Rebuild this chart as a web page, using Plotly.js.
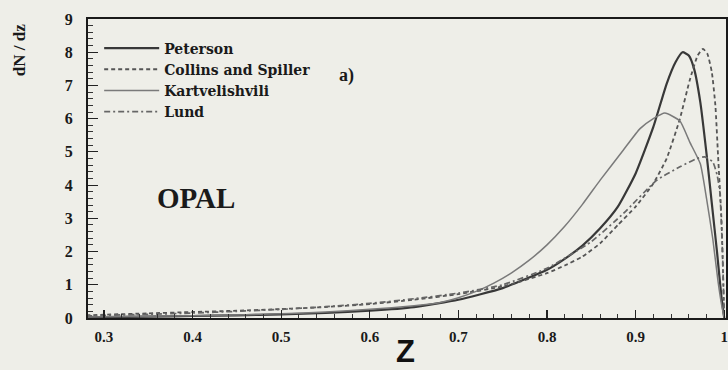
<!DOCTYPE html>
<html>
<head>
<meta charset="utf-8">
<script src="https://cdn.plot.ly/plotly-3.0.1.min.js"></script>
<style>
html,body{margin:0;padding:0;background:#eeeee8;}
#chart{width:728px;height:370px;}
</style>
</head>
<body>
<div id="chart"></div>
<script>
// Data
var seriesNames = ["Peterson", "Collins and Spiller", "Kartvelishvili", "Lund"];

var petersonZ = [0.28,0.30,0.35,0.40,0.45,0.50,0.55,0.60,0.65,0.70,0.75,0.80,0.82,0.84,0.86,0.88,0.90,0.92,0.935,0.945,0.953,0.960,0.966,0.973,0.980,0.986,0.992,0.997,1.0];
var petersonV = [0.02,0.03,0.04,0.06,0.08,0.11,0.15,0.22,0.33,0.55,0.90,1.45,1.78,2.18,2.70,3.35,4.35,5.75,7.05,7.70,8.00,7.90,7.50,6.50,4.95,3.45,1.95,0.60,0];

var collinsZ = [0.28,0.30,0.35,0.40,0.45,0.50,0.55,0.60,0.65,0.70,0.75,0.80,0.82,0.84,0.86,0.88,0.90,0.92,0.935,0.950,0.961,0.970,0.976,0.981,0.986,0.990,0.993,0.997,0.999,1.0];
var collinsV = [0.08,0.10,0.14,0.18,0.22,0.27,0.33,0.42,0.55,0.72,0.95,1.35,1.58,1.85,2.25,2.80,3.35,4.05,4.80,6.00,7.15,7.90,8.10,7.95,7.40,6.40,4.90,2.90,1.00,0];

var kartZ = [0.28,0.30,0.35,0.40,0.45,0.50,0.55,0.60,0.65,0.68,0.70,0.72,0.74,0.76,0.78,0.80,0.82,0.84,0.86,0.886,0.905,0.920,0.933,0.950,0.961,0.973,0.980,0.987,0.993,0.997,1.0];
var kartV = [0.03,0.04,0.05,0.07,0.09,0.13,0.18,0.26,0.37,0.47,0.61,0.80,1.05,1.36,1.74,2.20,2.76,3.42,4.15,5.05,5.70,6.00,6.17,5.93,5.30,4.64,3.60,2.40,1.10,0.40,0];

var lundZ = [0.28,0.30,0.35,0.40,0.45,0.50,0.55,0.60,0.65,0.70,0.75,0.80,0.85,0.886,0.924,0.950,0.969,0.978,0.987,0.992,0.995,0.998,1.0];
var lundV = [0.06,0.08,0.11,0.15,0.20,0.26,0.34,0.44,0.58,0.75,1.00,1.50,2.30,3.14,4.15,4.55,4.80,4.85,4.70,4.30,3.80,2.00,0];

var xTickVals = [0.3,0.4,0.5,0.6,0.7,0.8,0.9,1.0];
var xTickText = ["0.3","0.4","0.5","0.6","0.7","0.8","0.9","1"];
var yTickVals = [0,1,2,3,4,5,6,7,8,9];

var serif = "Liberation Serif, Times New Roman, serif";

var traces = [
  {x: petersonZ, y: petersonV, name: seriesNames[0], mode: "lines",
   line: {color: "#383838", width: 2.2, shape: "spline", smoothing: 0.5}},
  {x: collinsZ, y: collinsV, name: seriesNames[1], mode: "lines",
   line: {color: "#555555", width: 1.8, dash: "4px,3px", shape: "spline", smoothing: 0.5}},
  {x: kartZ, y: kartV, name: seriesNames[2], mode: "lines",
   line: {color: "#7a7a7a", width: 1.5, shape: "spline", smoothing: 0.5}},
  {x: lundZ, y: lundV, name: seriesNames[3], mode: "lines",
   line: {color: "#666666", width: 1.7, dash: "6px,3px,2px,3px", shape: "spline", smoothing: 0.5}}
];

var layout = {
  width: 728, height: 370,
  margin: {l: 88, r: 2, t: 19, b: 52},
  paper_bgcolor: "#eeeee8",
  plot_bgcolor: "#eeeee8",
  showlegend: true,
  legend: {
    x: 0.0175, y: 0.955, xanchor: "left", yanchor: "top",
    bgcolor: "rgba(0,0,0,0)", borderwidth: 0,
    itemwidth: 55, tracegroupgap: 0,
    font: {family: "DejaVu Serif, serif", size: 14, color: "#1a1a1a", weight: "bold"}
  },
  xaxis: {
    range: [0.282, 1.002],
    tickvals: xTickVals, ticktext: xTickText,
    ticks: "inside", ticklen: 8, tickwidth: 1.2, tickcolor: "#222",
    minor: {dtick: 0.02, ticks: "inside", ticklen: 4, tickwidth: 1, tickcolor: "#333"},
    showline: true, linecolor: "#1a1a1a", linewidth: 2, mirror: true,
    showgrid: false, zeroline: false,
    ticklabelstandoff: 4,
    tickfont: {family: serif, size: 15, color: "#1a1a1a", weight: "bold"}
  },
  yaxis: {
    range: [0, 9],
    tickvals: yTickVals,
    ticks: "inside", ticklen: 10, tickwidth: 1.2, tickcolor: "#222",
    minor: {dtick: 0.2, ticks: "inside", ticklen: 5, tickwidth: 1, tickcolor: "#333"},
    showline: true, linecolor: "#1a1a1a", linewidth: 2, mirror: true,
    showgrid: false, zeroline: false,
    ticklabelstandoff: 10,
    tickfont: {family: serif, size: 16, color: "#1a1a1a", weight: "bold"}
  },
  annotations: [
    {text: "dN / dz", xref: "paper", yref: "paper", x: -0.107, y: 0.895,
     xanchor: "center", yanchor: "middle", textangle: -90, showarrow: false,
     font: {family: serif, size: 17, color: "#1a1a1a", weight: "bold"}},
    {text: "Z", xref: "paper", yref: "paper", x: 0.497, y: -0.112,
     xanchor: "center", yanchor: "middle", showarrow: false,
     font: {family: "Liberation Sans, Arial, sans-serif", size: 31, color: "#111", weight: "bold"}},
    {text: "a)", xref: "paper", yref: "paper", x: 0.405, y: 0.81,
     xanchor: "center", yanchor: "middle", showarrow: false,
     font: {family: serif, size: 18, color: "#1a1a1a", weight: "bold"}},
    {text: "OPAL", xref: "paper", yref: "paper", x: 0.17, y: 0.4,
     xanchor: "center", yanchor: "middle", showarrow: false,
     font: {family: serif, size: 29, color: "#1a1a1a", weight: "bold"}}
  ]
};

Plotly.newPlot("chart", traces, layout, {displayModeBar: false, staticPlot: true});
</script>
</body>
</html>
